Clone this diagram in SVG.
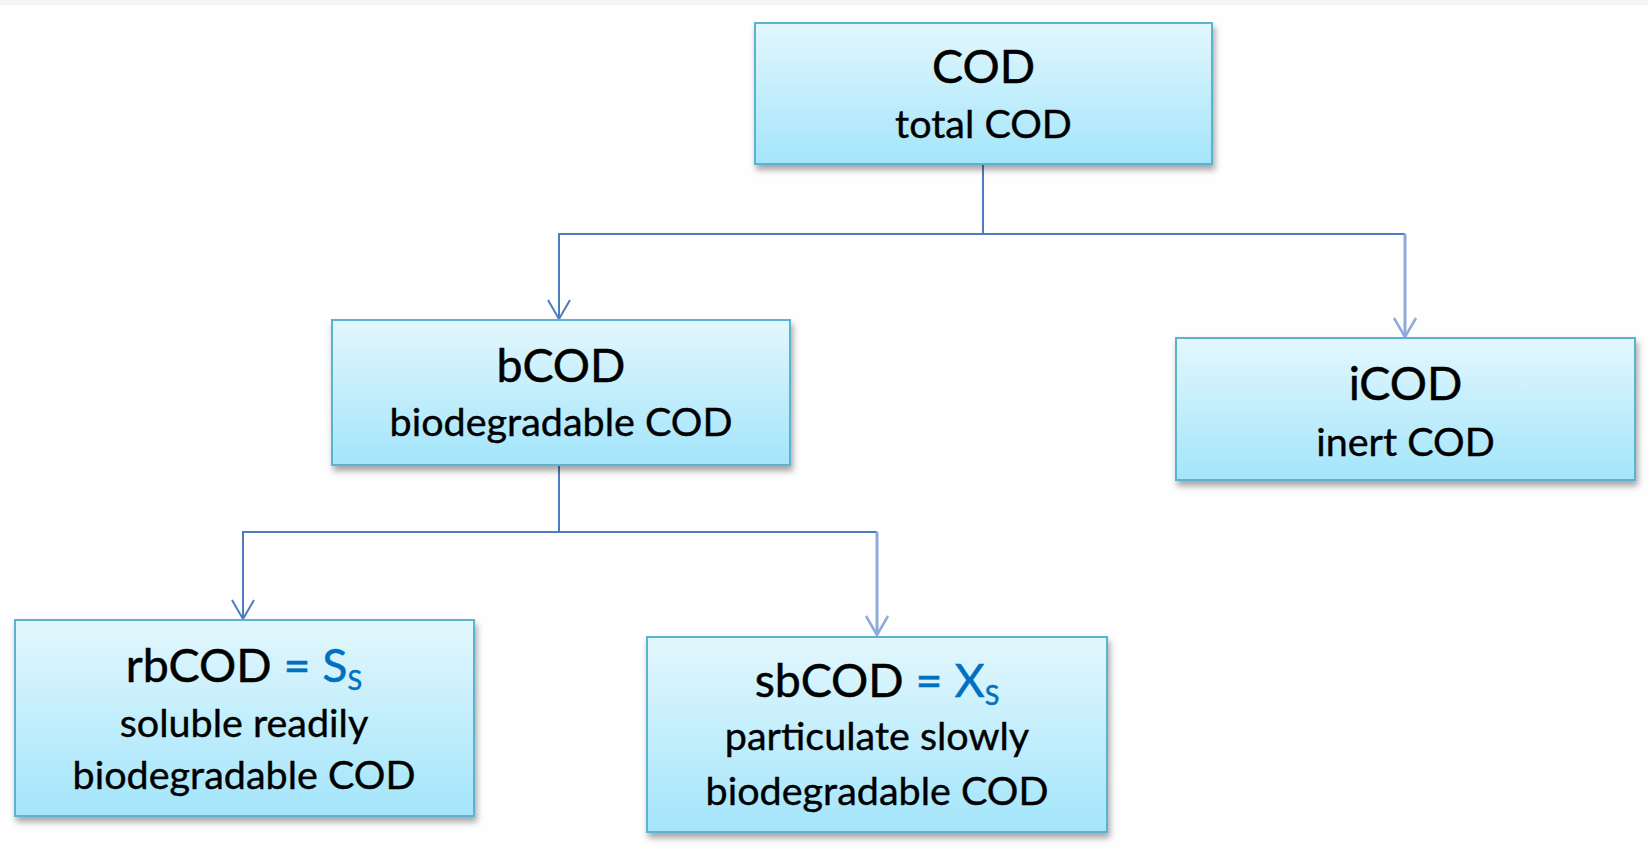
<svg xmlns="http://www.w3.org/2000/svg" width="1648" height="847" viewBox="0 0 1648 847">
<defs>
<linearGradient id="boxGrad" x1="0" y1="0" x2="0" y2="1">
<stop offset="0" stop-color="#e3f7fd"/>
<stop offset="1" stop-color="#a3e5fb"/>
</linearGradient>
<filter id="shadow" x="-5%" y="-10%" width="115%" height="130%">
<feDropShadow dx="2" dy="5" stdDeviation="3" flood-color="#000" flood-opacity="0.35"/>
</filter>
<marker id="arrowDark" markerUnits="userSpaceOnUse" markerWidth="30" markerHeight="30" refX="0" refY="0" orient="auto" overflow="visible">
<path d="M-19,-11 L0,0 L-19,11" fill="none" stroke="#4f7cc0" stroke-width="2"/>
</marker>
<marker id="arrowLight" markerUnits="userSpaceOnUse" markerWidth="30" markerHeight="30" refX="0" refY="0" orient="auto" overflow="visible">
<path d="M-19,-11 L0,0 L-19,11" fill="none" stroke="#8eaadb" stroke-width="2.5"/>
</marker>
</defs>
<style>
.box{fill:url(#boxGrad);stroke:#5ab4cf;stroke-width:2;filter:url(#shadow);}
.title{font-family:Lato,"Liberation Sans",sans-serif;font-size:46.5px;fill:#000;stroke:#000;stroke-width:0.5;text-anchor:middle;}
.sub{font-family:Lato,"Liberation Sans",sans-serif;font-size:39.5px;fill:#000;stroke:#000;stroke-width:0.4;text-anchor:middle;}
.blue{fill:#0070c0;stroke:#0070c0;}
.conn{fill:none;stroke:#4f7cc0;stroke-width:2;}
.connL{fill:none;stroke:#8eaadb;stroke-width:3;}
</style>
<rect x="0" y="0" width="1648" height="847" fill="#fefefe"/>
<rect x="0" y="0" width="1648" height="5" fill="#f6f6f6"/>

<g id="connectors">
<path class="conn" d="M983,165 V234"/>
<path class="conn" d="M983,234 H559 V319" marker-end="url(#arrowDark)"/>
<path class="conn" d="M983,234 H1405"/>
<path class="connL" d="M1405,234 V337" marker-end="url(#arrowLight)"/>
<path class="conn" d="M559,465 V532 H243 V619" marker-end="url(#arrowDark)"/>
<path class="conn" d="M559,532 H877"/>
<path class="connL" d="M877,532 V635" marker-end="url(#arrowLight)"/>
</g>

<g id="node-cod">
<rect class="box" x="755" y="23" width="457" height="141"/>
<text class="title" x="983.5" y="83">COD</text>
<text class="sub" x="983.5" y="138">total COD</text>
</g>

<g id="node-bcod">
<rect class="box" x="332" y="320" width="458" height="145"/>
<text class="title" x="561" y="382">bCOD</text>
<text class="sub" x="561" y="436">biodegradable COD</text>
</g>

<g id="node-icod">
<rect class="box" x="1176" y="338" width="459" height="142"/>
<text class="title" x="1405.5" y="400">iCOD</text>
<text class="sub" x="1405.5" y="456">inert COD</text>
</g>

<g id="node-rbcod">
<rect class="box" x="15" y="620" width="459" height="196"/>
<text class="title" x="244" y="682">rbCOD <tspan class="blue">= S</tspan><tspan class="blue" font-size="27" dy="8">S</tspan></text>
<text class="sub" x="244" y="737">soluble readily</text>
<text class="sub" x="244" y="789">biodegradable COD</text>
</g>

<g id="node-sbcod">
<rect class="box" x="647" y="637" width="460" height="195"/>
<text class="title" x="877" y="697">sbCOD <tspan class="blue">= X</tspan><tspan class="blue" font-size="27" dy="8">S</tspan></text>
<text class="sub" x="877" y="750">particulate slowly</text>
<text class="sub" x="877" y="805">biodegradable COD</text>
</g>
</svg>
